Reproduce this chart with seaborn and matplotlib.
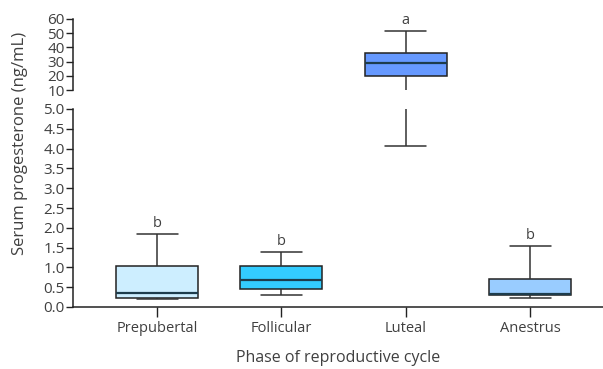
import matplotlib
matplotlib.use("Agg")
import matplotlib.pyplot as plt
import seaborn as sns
import pandas as pd
import numpy as np

# Data (five-number summaries, ng/mL)
phases = ["Prepubertal", "Follicular", "Luteal", "Anestrus"]
whisker_low = [0.21, 0.30, 4.07, 0.22]
q1 = [0.235, 0.45, 19.9, 0.295]
median = [0.35, 0.69, 28.8, 0.33]
q3 = [1.03, 1.035, 35.8, 0.70]
whisker_high = [1.84, 1.40, 51.8, 1.55]
letters = ["b", "b", "a", "b"]
colors = ["#cdeeff", "#33ccff", "#6699ff", "#99ccff"]
upper_ticks = [10, 20, 30, 40, 50, 60]
lower_ticks = [0.0, 0.5, 1.0, 1.5, 2.0, 2.5, 3.0, 3.5, 4.0, 4.5, 5.0]

rows = []
for i, p in enumerate(phases):
    for v in (whisker_low[i], q1[i], median[i], q3[i], whisker_high[i]):
        rows.append({"phase": p, "value": v})
df = pd.DataFrame(rows)

sns.set_style("white")
plt.rcParams["font.family"] = ["Open Sans", "DejaVu Sans"]
text_color = "#404040"
plt.rcParams["text.color"] = text_color
plt.rcParams["axes.labelcolor"] = text_color
plt.rcParams["xtick.color"] = "#222222"
plt.rcParams["ytick.color"] = "#222222"
plt.rcParams["xtick.labelcolor"] = text_color
plt.rcParams["ytick.labelcolor"] = text_color

fig = plt.figure(figsize=(6.03, 3.69), dpi=100)
left, right = 73 / 603, 1.0
ax_up = fig.add_axes([left, 1 - 90 / 369, right - left, (90 - 19) / 369])
ax_lo = fig.add_axes([left, 1 - 307 / 369, right - left, (307 - 109) / 369])

box_kw = dict(
    data=df, x="phase", y="value", order=phases, hue="phase", hue_order=phases,
    palette=colors, saturation=1, legend=False, whis=(0, 100), width=0.66, fliersize=0,
    linewidth=1.1,
    boxprops=dict(edgecolor="#222222"),
    medianprops=dict(color="#1d3c4c", linewidth=1.6),
    whiskerprops=dict(color="#333333"),
    capprops=dict(color="#333333"),
)
for ax in (ax_up, ax_lo):
    sns.boxplot(ax=ax, **box_kw)
    ax.set_xlim(-0.676, 3.587)
    for s in ("top", "right"):
        ax.spines[s].set_visible(False)
    ax.spines["left"].set_color("#222222")
    ax.spines["left"].set_linewidth(1.1)
    ax.tick_params(axis="y", direction="out", length=5, width=1, labelsize=11, pad=1, left=True)
    ax.set_ylabel("")

ax_up.set_ylim(10, 60)
ax_up.set_yticks(upper_ticks)
ax_up.spines["bottom"].set_visible(False)
ax_up.tick_params(axis="x", bottom=False, labelbottom=False)
ax_up.set_xlabel("")
ax_up.set_yticks([10], minor=True)
ax_up.tick_params(axis="y", which="minor", direction="in", length=6, width=1, left=True)

ax_lo.set_ylim(0, 5.0)
ax_lo.set_yticks(lower_ticks)
ax_lo.set_yticklabels([f"{t:.1f}" for t in lower_ticks])
ax_lo.set_yticks([5.0], minor=True)
ax_lo.tick_params(axis="y", which="minor", direction="in", length=6, width=1, left=True)
ax_lo.spines["bottom"].set_color("#222222")
ax_lo.spines["bottom"].set_linewidth(1.1)
ax_lo.tick_params(axis="x", direction="out", length=7, width=1, labelsize=10.5, pad=3, bottom=True)
ax_lo.set_xlabel("Phase of reproductive cycle", fontsize=11.5, labelpad=10)

for i, p in enumerate(phases):
    target = ax_up if whisker_high[i] > 5 else ax_lo
    target.annotate(letters[i], (i, whisker_high[i]), xytext=(0, 2), textcoords="offset points",
                    ha="center", va="bottom", fontsize=10.5, color=text_color, annotation_clip=False)

fig.text(20 / 603, 1 - 143 / 369, "Serum progesterone (ng/mL)", rotation=90,
         ha="center", va="center", fontsize=12, color=text_color)

fig.savefig("out.png", dpi=100)
